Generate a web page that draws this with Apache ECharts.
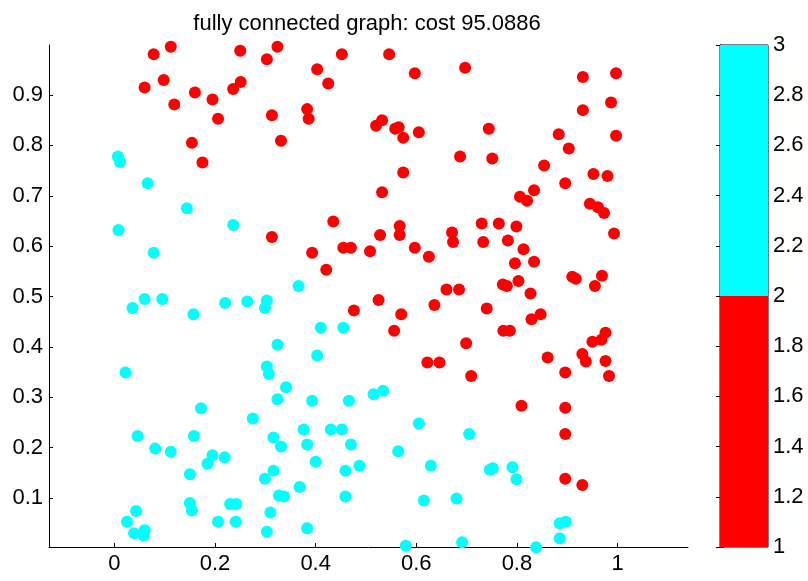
<!DOCTYPE html>
<html>
<head>
<meta charset="utf-8">
<script src="https://cdn.jsdelivr.net/npm/echarts@6/dist/echarts.min.js"></script>
<style>html,body{margin:0;padding:0;background:#fff}#c{width:808px;height:581px}</style>
</head>
<body>
<div id="c"></div>
<script>
const titleText = 'fully connected graph: cost 95.0886';
const xTicks = [0, 0.2, 0.4, 0.6, 0.8, 1];
const yTicks = [0.1, 0.2, 0.3, 0.4, 0.5, 0.6, 0.7, 0.8, 0.9];
const colorbarLevels = [1, 2, 3];
const clusterColors = ['#ff0000', '#00ffff'];

const cluster1 = [
[0.078,0.981],[0.112,0.996],[0.250,0.988],[0.060,0.915],[0.098,0.930],[0.160,0.905],[0.195,0.891],[0.236,0.912],[0.251,0.926],[0.119,0.881],[0.206,0.853],[0.154,0.805],[0.175,0.766],
[0.324,0.996],[0.303,0.971],[0.452,0.981],[0.546,0.981],[0.403,0.951],[0.425,0.923],[0.597,0.943],[0.697,0.954],[0.313,0.860],[0.383,0.872],[0.386,0.853],[0.331,0.809],[0.532,0.850],[0.520,0.839],[0.565,0.836],[0.558,0.833],[0.574,0.815],[0.605,0.826],[0.687,0.778],[0.574,0.746],[0.532,0.707],
[0.931,0.936],[0.997,0.943],[0.987,0.885],[0.931,0.870],[0.997,0.819],[0.744,0.833],[0.883,0.822],[0.903,0.794],[0.751,0.774],[0.854,0.760],[0.952,0.743],[0.980,0.739],[0.896,0.725],[0.834,0.711],[0.806,0.698],[0.820,0.690],
[0.945,0.684],[0.961,0.677],[0.973,0.666],[0.993,0.625],[0.730,0.645],[0.764,0.645],[0.799,0.639],[0.733,0.608],[0.782,0.611],[0.813,0.594],[0.796,0.566],[0.834,0.569],[0.772,0.524],[0.780,0.521],[0.803,0.531],[0.827,0.506],[0.910,0.539],[0.917,0.535],[0.969,0.541],[0.955,0.521],[0.740,0.476],[0.829,0.455],[0.847,0.465],[0.773,0.432],[0.786,0.432],[0.699,0.407],[0.976,0.428],[0.968,0.414],[0.950,0.410],[0.930,0.386],[0.937,0.371],[0.976,0.372],[0.861,0.379],[0.896,0.349],[0.983,0.342],[0.709,0.342],
[0.435,0.649],[0.567,0.640],[0.567,0.622],[0.313,0.618],[0.528,0.622],[0.671,0.627],[0.673,0.608],[0.393,0.587],[0.455,0.597],[0.470,0.597],[0.508,0.590],[0.597,0.597],[0.625,0.579],[0.421,0.553],[0.660,0.514],[0.685,0.514],[0.525,0.493],[0.476,0.472],[0.570,0.465],[0.636,0.483],[0.556,0.432],[0.622,0.369],[0.646,0.369],
[0.809,0.283],[0.896,0.279],[0.896,0.227],[0.896,0.138],[0.930,0.126]
];

const cluster2 = [
[0.007,0.778],[0.011,0.767],[0.066,0.725],[0.144,0.675],
[0.705,0.227],[0.746,0.156],[0.752,0.159],[0.791,0.161],[0.799,0.137],[0.885,0.050],[0.897,0.053],[0.885,0.020],[0.838,0.002],
[0.366,0.521],[0.303,0.492],[0.299,0.477],[0.410,0.438],[0.455,0.438],[0.324,0.404],[0.403,0.383],[0.303,0.361],[0.307,0.346],
[0.008,0.632],[0.236,0.642],[0.078,0.587],[0.036,0.477],[0.060,0.495],[0.095,0.495],[0.157,0.465],[0.220,0.487],[0.264,0.490],[0.022,0.349],
[0.172,0.278],[0.275,0.258],[0.046,0.223],[0.158,0.223],[0.081,0.198],[0.112,0.192],[0.195,0.185],[0.185,0.168],[0.219,0.181],[0.150,0.147],[0.150,0.090],[0.154,0.075],[0.230,0.088],[0.242,0.088],[0.206,0.053],[0.241,0.053],[0.043,0.074],[0.025,0.053],[0.039,0.030],[0.058,0.025],[0.060,0.036],
[0.341,0.320],[0.324,0.296],[0.393,0.293],[0.466,0.293],[0.515,0.306],[0.534,0.313],[0.376,0.236],[0.430,0.236],[0.452,0.236],[0.316,0.220],[0.331,0.202],[0.383,0.206],[0.470,0.206],[0.605,0.248],[0.564,0.193],[0.400,0.172],[0.487,0.164],[0.459,0.154],[0.629,0.164],[0.316,0.154],[0.299,0.138],[0.368,0.122],[0.327,0.105],[0.337,0.103],[0.459,0.103],[0.615,0.095],[0.680,0.099],[0.310,0.071],[0.303,0.033],[0.383,0.040],[0.579,0.005],[0.691,0.012]
];

const FONT = "'Liberation Sans', Arial, sans-serif";
const chart = echarts.init(document.getElementById('c'), null, {renderer: 'canvas'});

const colorbarData = [];
for (let i = 0; i < colorbarLevels.length - 1; i++) {
  colorbarData.push({value: [colorbarLevels[i], colorbarLevels[i + 1]], itemStyle: {color: clusterColors[i]}});
}

chart.setOption({
  animation: false,
  backgroundColor: '#fff',
  title: {
    text: titleText, left: 362, top: 8, textAlign: 'center',
    textStyle: {fontFamily: FONT, fontSize: 22, fontWeight: 'normal', color: '#000'}
  },
  grid: [
    {left: 49, top: 45, width: 639, height: 502, containLabel: false},
    {left: 720, top: 45, width: 48, height: 502, show: true, borderColor: '#000', borderWidth: 1, backgroundColor: 'transparent'}
  ],
  xAxis: [
    {
      type: 'value', gridIndex: 0, min: -0.13, max: 1.14,
      splitLine: {show: false},
      axisLine: {show: true, onZero: false, lineStyle: {color: '#000', width: 1}},
      axisTick: {show: true, inside: true, length: 4, customValues: xTicks, lineStyle: {color: '#000'}},
      axisLabel: {show: true, customValues: xTicks, fontFamily: FONT, fontSize: 22, color: '#000', margin: 6}
    },
    {
      type: 'value', gridIndex: 1, min: 0, max: 1, show: false
    }
  ],
  yAxis: [
    {
      type: 'value', gridIndex: 0, min: 0.0027, max: 0.9993,
      splitLine: {show: false},
      axisLine: {show: true, onZero: false, lineStyle: {color: '#000', width: 1}},
      axisTick: {show: true, inside: true, length: 4, customValues: yTicks, lineStyle: {color: '#000'}},
      axisLabel: {show: true, customValues: yTicks, fontFamily: FONT, fontSize: 22, color: '#000', margin: 6}
    },
    {
      type: 'value', gridIndex: 1, min: 1, max: 3, interval: 0.2, position: 'right',
      splitLine: {show: false},
      axisLine: {show: true, lineStyle: {color: '#000'}},
      axisTick: {show: true, inside: true, length: 4, lineStyle: {color: '#000'}},
      axisLabel: {show: true, fontFamily: FONT, fontSize: 22, color: '#000', margin: 5}
    },
    {
      type: 'value', gridIndex: 1, min: 1, max: 3, interval: 0.2, position: 'left',
      splitLine: {show: false},
      axisLine: {show: true, lineStyle: {color: '#000'}},
      axisTick: {show: true, inside: true, length: 4, lineStyle: {color: '#000'}},
      axisLabel: {show: false}
    }
  ],
  series: [
    {
      type: 'custom', xAxisIndex: 1, yAxisIndex: 1, clip: true,
      data: colorbarData,
      renderItem: function (params, api) {
        const lo = api.value(0), hi = api.value(1);
        const p0 = api.coord([0, lo]);
        const p1 = api.coord([1, hi]);
        return {
          type: 'rect',
          shape: {x: p0[0], y: p1[1], width: p1[0] - p0[0], height: p0[1] - p1[1]},
          style: {fill: api.visual('color')}
        };
      },
      z: 1
    },
    {
      type: 'scatter', xAxisIndex: 0, yAxisIndex: 0, data: cluster2,
      symbol: 'circle', symbolSize: 12, clip: false,
      itemStyle: {color: clusterColors[1], opacity: 1}
    },
    {
      type: 'scatter', xAxisIndex: 0, yAxisIndex: 0, data: cluster1,
      symbol: 'circle', symbolSize: 12, clip: false,
      itemStyle: {color: clusterColors[0], opacity: 1}
    }
  ]
});
</script>
</body>
</html>
